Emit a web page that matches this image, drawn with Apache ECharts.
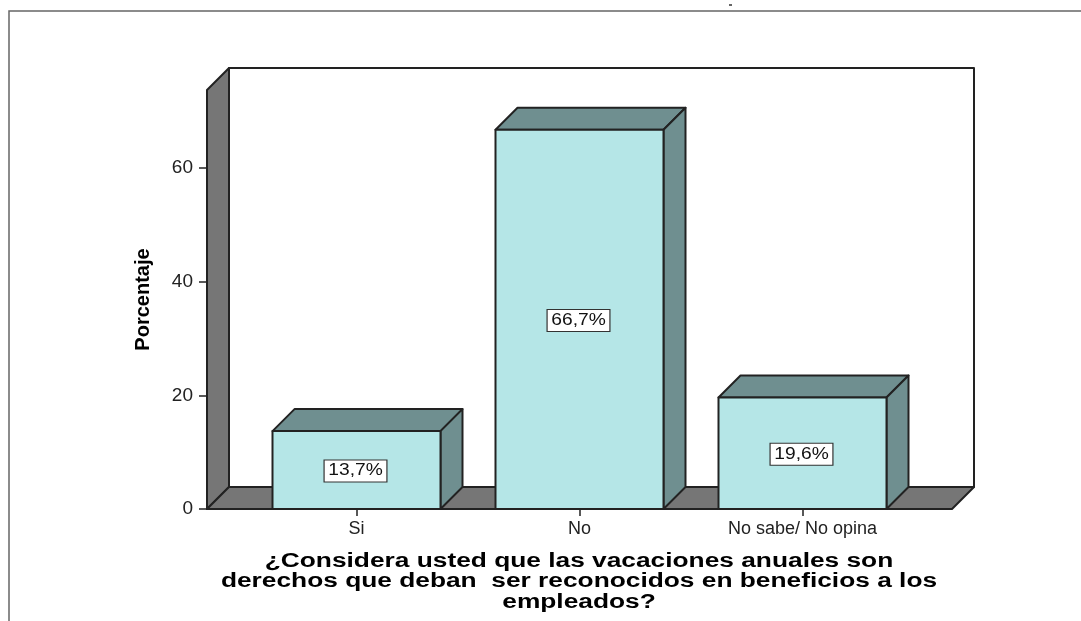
<!DOCTYPE html>
<html>
<head>
<meta charset="utf-8">
<title>Vacaciones anuales</title>
<style>
    html, body { margin: 0; padding: 0; background: #fff; }
    #main { width: 1081px; height: 621px; }
</style>
<script src="https://cdn.jsdelivr.net/npm/echarts@6/dist/echarts.min.js"></script>
</head>
<body>
<div id="main"></div>
<script>
var categories = ['Si', 'No', 'No sabe/ No opina'];
var percentages = [13.7, 66.7, 19.6];
var percent_labels = ['13,7%', '66,7%', '19,6%'];
var tick_values = [0, 20, 40, 60];
var axis_max = 73.7;
var x_title = '¿Considera usted que las vacaciones anuales son\nderechos que deban  ser reconocidos en beneficios a los\nempleados?';
var y_title = 'Porcentaje';

var depth = 22;         // desplazamiento 3D
var bar_width = 168;
var line_color = '#222222';
var wall_color = '#767676';
var bar_front = '#b5e6e7';
var bar_side = '#6f8f90';

function poly(points, color) {
    return {
        type: 'polygon',
        shape: { points: points },
        style: { fill: color, stroke: line_color, lineWidth: 2, lineJoin: 'round' }
    };
}

// paredes y piso del grafico
function renderWalls(params, api) {
    var g = params.coordSys;
    var left = g.x - 38;
    var right = g.x + g.width + 38;
    var top = g.y;
    var bottom = g.y + g.height;
    return {
        type: 'group',
        children: [
            poly([[left + depth, top - depth], [right + depth, top - depth], [right + depth, bottom - depth], [left + depth, bottom - depth]], '#ffffff'),
            poly([[left, top], [left + depth, top - depth], [left + depth, bottom - depth], [left, bottom]], wall_color),
            poly([[left, bottom], [left + depth, bottom - depth], [right + depth, bottom - depth], [right, bottom]], wall_color)
        ]
    };
}

function renderBar(params, api) {
    var base = api.coord([api.value(0), 0]);
    var head = api.coord([api.value(0), api.value(1)]);
    var x0 = base[0] - bar_width / 2;
    var x1 = base[0] + bar_width / 2;
    var y0 = base[1];
    var y1 = head[1];
    return {
        type: 'group',
        children: [
            poly([[x0, y1], [x0 + depth, y1 - depth], [x1 + depth, y1 - depth], [x1, y1]], bar_side),
            poly([[x1, y1], [x1 + depth, y1 - depth], [x1 + depth, y0 - depth], [x1, y0]], bar_side),
            poly([[x0, y1], [x1, y1], [x1, y0], [x0, y0]], bar_front),
            {
                type: 'text',
                x: base[0] - 1,
                y: (y0 + y1) / 2 + 1,
                scaleX: 1.2,
                style: {
                    text: percent_labels[params.dataIndex],
                    fill: '#111111',
                    font: '16px "Liberation Sans", Arial, sans-serif',
                    align: 'center',
                    verticalAlign: 'middle',
                    backgroundColor: '#ffffff',
                    borderColor: '#333333',
                    borderWidth: 1,
                    padding: [3, 3, 2, 3]
                }
            }
        ]
    };
}

var myChart = echarts.init(document.getElementById('main'));
var option = {
    animation: false,
    backgroundColor: '#ffffff',
    grid: { left: 245, right: 167, top: 90, bottom: 112 },
    graphic: [
        {
            type: 'polyline',
            silent: true,
            shape: { points: [[9, 621], [9, 11], [1081, 11]] },
            style: { fill: null, stroke: '#666666', lineWidth: 1.5 }
        },
        {
            type: 'line',
            silent: true,
            shape: { x1: 729, y1: 5, x2: 732, y2: 5 },
            style: { stroke: '#333333', lineWidth: 1.5 }
        },
        {
            type: 'text',
            silent: true,
            x: 579,
            y: 551,
            scaleX: 1.315,
            style: {
                text: x_title,
                fill: '#000000',
                font: 'bold 20px "Liberation Sans", Arial, sans-serif',
                align: 'center',
                lineHeight: 20.5
            }
        }
    ],
    xAxis: {
        type: 'category',
        data: categories,
        axisLine: { show: false },
        axisTick: { show: true, alignWithLabel: true, length: 7, lineStyle: { color: '#222222', width: 1.5 } },
        axisLabel: { color: '#222222', fontFamily: 'Liberation Sans', fontSize: 18, margin: 11 }
    },
    yAxis: {
        type: 'value',
        min: 0,
        max: axis_max,
        offset: 38,
        name: y_title,
        nameLocation: 'middle',
        nameGap: 54,
        nameTextStyle: { color: '#000000', fontFamily: 'Liberation Sans Narrow, Liberation Sans', fontWeight: 'bold', fontSize: 20 },
        axisLine: { show: false },
        axisTick: { show: true, length: 8, customValues: tick_values, lineStyle: { color: '#222222', width: 1.5 } },
        axisLabel: { color: '#222222', fontFamily: 'Liberation Sans', fontSize: 19, margin: 14, customValues: tick_values },
        splitLine: { show: false }
    },
    series: [
        {
            type: 'custom',
            renderItem: renderWalls,
            clip: false,
            silent: true,
            z: 1,
            data: [[0, 0]]
        },
        {
            type: 'custom',
            renderItem: renderBar,
            clip: false,
            z: 2,
            encode: { x: 0, y: 1 },
            data: categories.map(function (c, i) { return [i, percentages[i]]; })
        }
    ]
};
myChart.setOption(option);
</script>
</body>
</html>
